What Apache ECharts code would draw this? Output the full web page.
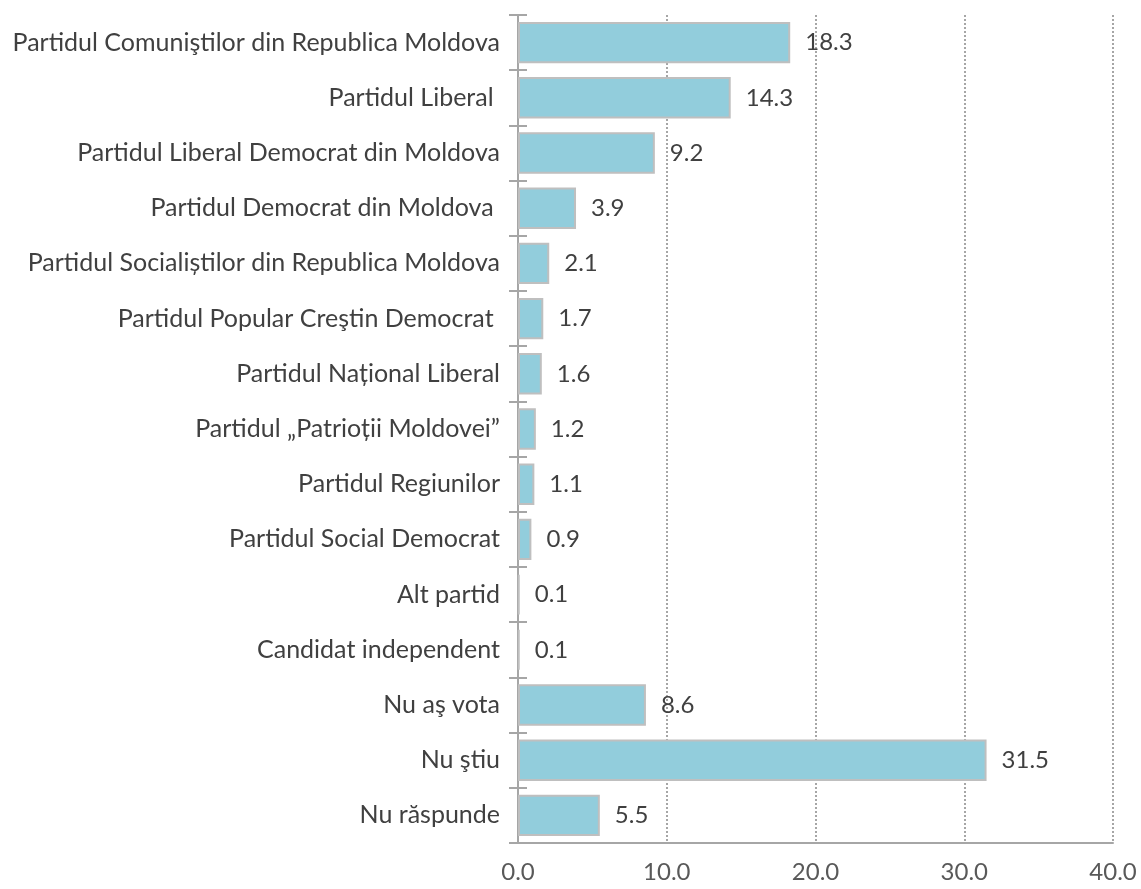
<!DOCTYPE html>
<html><head><meta charset="utf-8">
<script src="https://cdn.jsdelivr.net/npm/echarts@6/dist/echarts.min.js"></script>
<style>html,body{margin:0;padding:0;background:#fff}#c{width:1141px;height:889px}</style>
</head><body><div id="c"></div>
<script>
const categories = [
  "Partidul Comuniştilor din Republica Moldova",
  "Partidul Liberal ",
  "Partidul Liberal Democrat din Moldova",
  "Partidul Democrat din Moldova ",
  "Partidul Socialiștilor din Republica Moldova",
  "Partidul Popular Creştin Democrat ",
  "Partidul Național Liberal",
  "Partidul „Patrioții Moldovei”",
  "Partidul Regiunilor",
  "Partidul Social Democrat",
  "Alt partid",
  "Candidat independent",
  "Nu aş vota",
  "Nu ştiu",
  "Nu răspunde"
];
const values = [18.3, 14.3, 9.2, 3.9, 2.1, 1.7, 1.6, 1.2, 1.1, 0.9, 0.1, 0.1, 8.6, 31.5, 5.5];
const xTicks = [0, 10, 20, 30, 40];

const FONT = "Lato";
const FS = 24;
const chart = echarts.init(document.getElementById('c'));
chart.setOption({
  animation: false,
  grid: {left: 518, right: 28, top: 15, bottom: 46},
  xAxis: {
    type: 'value', min: xTicks[0], max: xTicks[xTicks.length-1], interval: 10,
    axisLine: {show: true, lineStyle: {color: '#A6A6A6', width: 2}},
    axisTick: {show: false},
    splitLine: {show: true, lineStyle: {color: '#A6A6A6', type: [2, 2], width: 2}},
    axisLabel: {color: '#595959', fontFamily: FONT, fontSize: FS, margin: 17,
      formatter: v => v.toFixed(1)}
  },
  yAxis: [{
    type: 'category', data: categories, inverse: true,
    axisLine: {show: true, lineStyle: {color: '#A6A6A6', width: 2}},
    axisTick: {show: true, length: 9, lineStyle: {color: '#A6A6A6', width: 2}},
    axisLabel: {color: '#404040', fontFamily: FONT, fontSize: 25, margin: 18}
  }, {
    type: 'category', data: categories, inverse: true, position: 'left',
    axisLine: {show: false},
    axisTick: {show: true, inside: true, length: 9, lineStyle: {color: '#A6A6A6', width: 2}},
    axisLabel: {show: false}
  }],
  series: [{
    type: 'bar', data: values, barCategoryGap: '25%',
    itemStyle: {color: '#92CDDC', borderColor: '#BFBFBF', borderWidth: 2},
    label: {show: true, position: 'right', distance: 15, color: '#404040',
      fontFamily: FONT, fontSize: FS, formatter: p => p.value.toFixed(1)}
  }]
});
</script></body></html>
